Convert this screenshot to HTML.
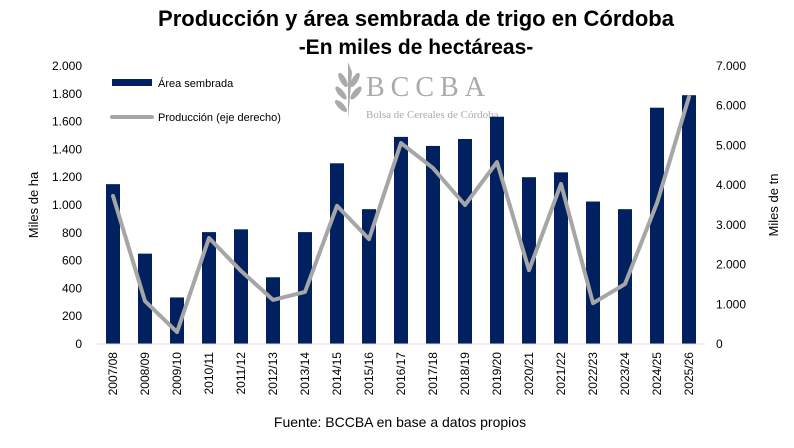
<!DOCTYPE html>
<html><head><meta charset="utf-8"><style>
body{margin:0;background:#fff;}
svg{font-family:"Liberation Sans",Arial,sans-serif;}
</style></head><body>
<svg id="chart" width="794" height="443" viewBox="0 0 794 443">
<text x="416" y="26" text-anchor="middle" font-size="22" font-weight="bold">Producción y área sembrada de trigo en Córdoba</text>
<text x="416" y="54" text-anchor="middle" font-size="21" font-weight="bold">-En miles de hectáreas-</text>
<g fill="#aaa">
<path d="M348 62 L352 72 L348 120 Z" />
<ellipse cx="343" cy="80" rx="3" ry="8" transform="rotate(-30 343 80)"/>
<ellipse cx="341" cy="93" rx="3" ry="8" transform="rotate(-40 341 93)"/>
<ellipse cx="341" cy="106" rx="3" ry="8" transform="rotate(-45 341 106)"/>
<ellipse cx="355" cy="80" rx="3" ry="8" transform="rotate(30 355 80)"/>
<ellipse cx="356" cy="93" rx="3" ry="8" transform="rotate(40 356 93)"/>
<text x="366" y="96" font-family="Liberation Serif,serif" font-size="28" letter-spacing="6">BCCBA</text>
<text x="366" y="118" font-family="Liberation Serif,serif" font-size="11">Bolsa de Cereales de Córdoba</text>
</g>
<rect x="112" y="79" width="40" height="7" fill="#002060"/>
<text x="158" y="87" font-size="11">Área sembrada</text>
<line x1="112" y1="117" x2="152" y2="117" stroke="#a6a6a6" stroke-width="4" stroke-linecap="round"/>
<text x="158" y="121" font-size="11">Producción (eje derecho)</text>
<text transform="translate(38 205) rotate(-90)" text-anchor="middle" font-size="13">Miles de ha</text>
<text transform="translate(778 205) rotate(-90)" text-anchor="middle" font-size="13">Miles de tn</text>
<text x="400" y="427" text-anchor="middle" font-size="14">Fuente: BCCBA en base a datos propios</text>
<g id="plot"></g>
</svg>
<script>
const categories=["2007/08","2008/09","2009/10","2010/11","2011/12","2012/13","2013/14","2014/15","2015/16","2016/17","2017/18","2018/19","2019/20","2020/21","2021/22","2022/23","2023/24","2024/25","2025/26"];
const area=[1150,650,335,805,825,480,805,1300,970,1490,1425,1475,1635,1200,1235,1025,970,1700,1790];
const produccion=[3730,1080,300,2670,1840,1110,1310,3480,2640,5060,4430,3500,4580,1860,4030,1030,1510,3550,6220];
const leftTicks=[0,200,400,600,800,1000,1200,1400,1600,1800,2000];
const rightTicks=[0,1000,2000,3000,4000,5000,6000,7000];
const fmt=v=>v.toLocaleString('de-DE');
const NS="http://www.w3.org/2000/svg";
const g=document.getElementById('plot');
const x0=97,x1=705,yB=344,yT=66;
const band=(x1-x0)/categories.length;
const xc=i=>x0+band*(i+0.5);
const yL=v=>yB-(v/2000)*(yB-yT);
const yR=v=>yB-(v/7000)*(yB-yT);
function mk(t,a){const e=document.createElementNS(NS,t);for(const k in a)e.setAttribute(k,a[k]);g.appendChild(e);return e;}
leftTicks.forEach(v=>{const t=mk('text',{x:82,y:yL(v)+4,'text-anchor':'end','font-size':12});t.textContent=fmt(v);

});
rightTicks.forEach(v=>{const t=mk('text',{x:716,y:yR(v)+4,'font-size':12});t.textContent=fmt(v);

});
area.forEach((v,i)=>{const r=mk('rect',{x:xc(i)-7,y:yL(v),width:14,height:yB-yL(v),fill:'#002060'});

});
const ax=mk('line',{x1:x0,y1:yB,x2:x1,y2:yB,stroke:'#d9d9d9'});


const pl=mk('polyline',{points:produccion.map((v,i)=>xc(i)+','+yR(v)).join(' '),fill:'none',stroke:'#a6a6a6','stroke-width':4,'stroke-linejoin':'round','stroke-linecap':'round'});


categories.forEach((c,i)=>{const t=mk('text',{transform:`translate(${xc(i)+4} 352) rotate(-90)`,'text-anchor':'end','font-size':12});t.textContent=c;

});
</script>
</body></html>
